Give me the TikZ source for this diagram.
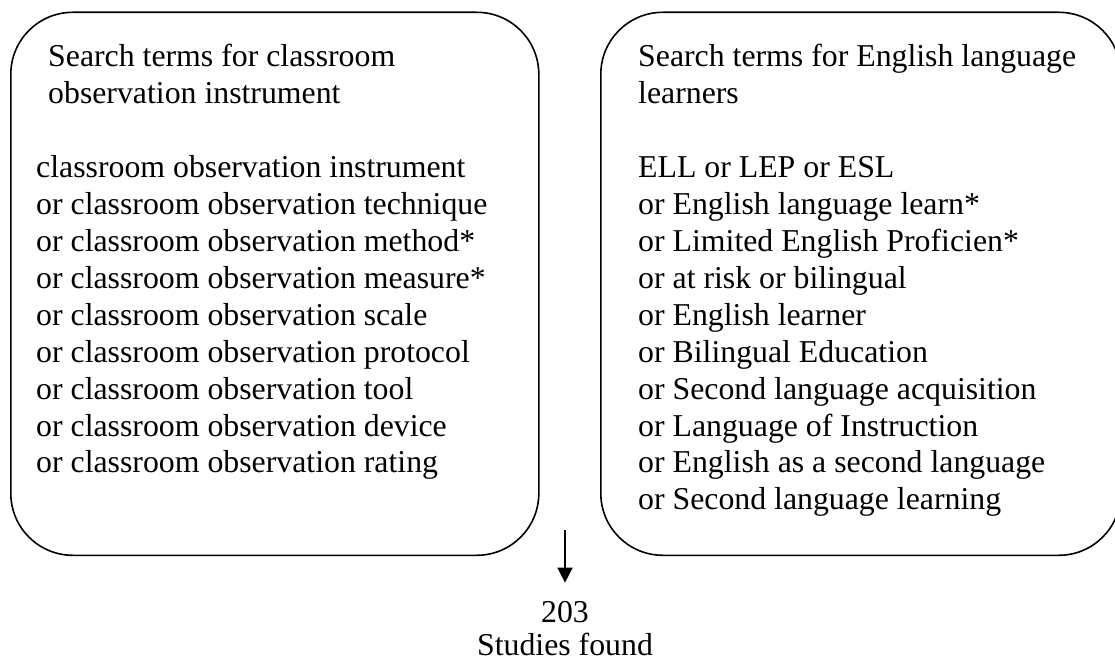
\documentclass[tikz,border=0pt]{standalone}
\usepackage{fontspec}
\setmainfont{Liberation Serif}
\usetikzlibrary{arrows.meta}

\begin{document}
\begin{tikzpicture}[x=1pt, y=-1pt,
  termbox/.style={draw, line width=1.6pt, rounded corners=62pt,
    inner sep=0pt, anchor=north west},
  txt/.style={inner sep=0pt, anchor=base west,
    font=\fontsize{31.8}{36.9}\selectfont},
  ctxt/.style={txt, anchor=base},
  flow/.style={line width=1.5pt, -{Triangle[width=15pt,length=15pt]}}]
  \useasboundingbox (0,0) rectangle (1115,663);

  % the two search-term boxes
  \node[termbox, minimum width=528pt, minimum height=543pt] (leftbox) at (10,11.5) {};
  \node[termbox, minimum width=520pt, minimum height=543pt] (rightbox) at (600,11.5) {};

  % left box: heading, a blank line, then the terms
  \node[txt] (lh1) at (48,67) {Search terms for classroom};
  \node[txt] (lh2) at (48,103.9) {observation instrument};
  \foreach \t [count=\i] in {
      classroom observation instrument,
      or classroom observation technique,
      or classroom observation method*,
      or classroom observation measure*,
      or classroom observation scale,
      or classroom observation protocol,
      or classroom observation tool,
      or classroom observation device,
      or classroom observation rating}
    \node[txt] (lt\i) at (36,{67+36.9*(\i+2)}) {\t};

  % right box: heading, a blank line, then the terms
  \node[txt] (rh1) at (638,67) {Search terms for English language};
  \node[txt] (rh2) at (638,103.9) {learners};
  \foreach \t [count=\i] in {
      ELL or LEP or ESL,
      or English language learn*,
      or Limited English Proficien*,
      or at risk or bilingual,
      or English learner,
      or Bilingual Education,
      or Second language acquisition,
      or Language of Instruction,
      or English as a second language,
      or Second language learning}
    \node[txt] (rt\i) at (638,{67+36.9*(\i+2)}) {\t};

  % result of the combined search
  \node[ctxt] (count) at (565,622) {203};
  \node[ctxt] (found) at (565,655.5) {Studies found};

  \coordinate (arrowstart) at (565,530);
  \draw[flow, shorten >=18pt] (arrowstart) -- (count.north);
\end{tikzpicture}
\end{document}
